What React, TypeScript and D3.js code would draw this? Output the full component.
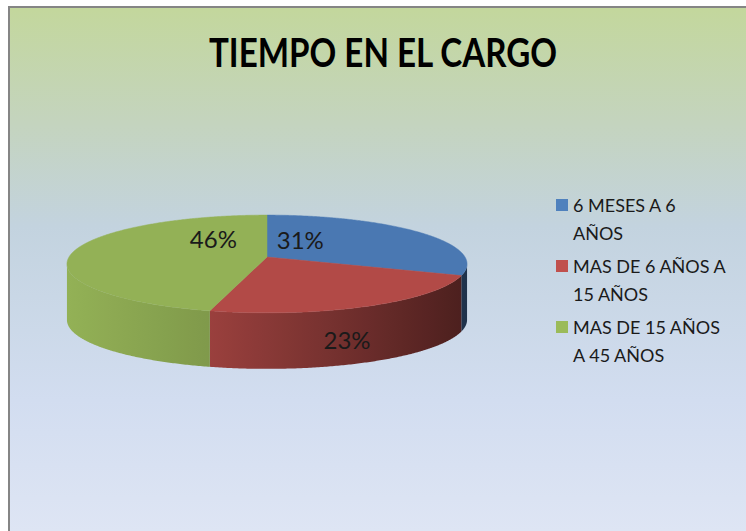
import React from "react";
import * as d3 from "d3";

const title = "TIEMPO EN EL CARGO";
const categories = ["6 MESES A 6 AÑOS", "MAS DE 6 AÑOS A 15 AÑOS", "MAS DE 15 AÑOS A 45 AÑOS"];
const legendLines = [
  ["6 MESES A 6", "AÑOS"],
  ["MAS DE 6 AÑOS A", "15 AÑOS"],
  ["MAS DE 15 AÑOS", "A 45 AÑOS"],
];
const values = [31, 23, 46];
const percentLabels = values.map((v) => `${v}%`);
const topColors = ["#4A78B2", "#B24A47", "#93B156"];
const legendColors = ["#4F81BD", "#C0504D", "#9BBB59"];
// label anchors in pie polar coords: angle (deg, clockwise from back), radius, drop fraction of side
const labelAnchors = [
  { a: 25, r: 0.42, drop: 0 },
  { a: 159.5, r: 1, drop: 0.54 },
  { a: 325, r: 0.5, drop: 0 },
];

const W = 746;
const H = 531;
const cx = 267;
const cy = 257;
const K = 198;
const Dp = 6.8;
const phi = (14 * Math.PI) / 180;
const sP = Math.sin(phi);
const cP = Math.cos(phi);
const depth = 56;

function proj(theta: number, r: number, drop: number): [number, number] {
  const x = r * Math.sin(theta);
  const z = -r * Math.cos(theta);
  const w = Dp - z * cP;
  return [cx + (K * Dp * x) / w, cy + (K * Dp * z * sP) / w + drop];
}

const light = d3.scaleLinear().domain([0, 0.35, 0.68, 1]).range([1.0, 0.87, 0.65, 0.42]).clamp(true);

function shade(col: string, f: number) {
  const c = d3.rgb(col);
  return d3.rgb(c.r * f, c.g * f, c.b * f).formatHex();
}

export default function App() {
  const arcs = d3.pie<number>().sort(null).startAngle(0).endAngle(2 * Math.PI)(values);
  const step = Math.PI / 360;
  const silA = Math.acos(-cP / Dp);
  const silB = 2 * Math.PI - silA;
  const xL = proj(silB, 1, 0)[0];
  const xR = proj(silA, 1, 0)[0];

  const sides = arcs
    .map((a, i) => {
      const s = Math.max(a.startAngle, silA);
      const e = Math.min(a.endAngle, silB);
      if (e <= s) return null;
      const n = Math.max(2, Math.ceil((e - s) / step));
      const topPts: [number, number][] = [];
      const botPts: [number, number][] = [];
      for (let k = 0; k <= n; k++) {
        const t = s + ((e - s) * k) / n;
        topPts.push(proj(t, 1, 0));
        botPts.push(proj(t, 1, depth));
      }
      const pts = topPts.concat(botPts.reverse());
      return { d: d3.line()(pts) + "Z", i };
    })
    .filter((v) => v !== null) as { d: string; i: number }[];

  const tops = arcs.map((a, i) => {
    const pts: [number, number][] = [proj(0, 0, 0)];
    const n = Math.max(2, Math.ceil((a.endAngle - a.startAngle) / step));
    for (let k = 0; k <= n; k++) {
      const t = a.startAngle + ((a.endAngle - a.startAngle) * k) / n;
      pts.push(proj(t, 1, 0));
    }
    return { d: d3.line()(pts) + "Z", fill: topColors[i] };
  });

  // gradient stops along screen x for each colour
  const stopSamples = d3.range(0, 1.0001, 0.05);

  const font = "Lato, 'Open Sans', sans-serif";

  return (
    <svg width={W} height={H} style={{ position: "absolute", left: 0, top: 0 }}>
      <defs>
        <linearGradient id="bg" gradientUnits="userSpaceOnUse" x1="0" y1="7" x2="0" y2="531">
          <stop offset="0" stopColor="#C3D79C" />
          <stop offset="0.22" stopColor="#C4D4BE" />
          <stop offset="0.42" stopColor="#C3D3DF" />
          <stop offset="0.75" stopColor="#D2DDF0" />
          <stop offset="1" stopColor="#DEE5F4" />
        </linearGradient>
        {topColors.map((col, i) => (
          <linearGradient key={i} id={`side${i}`} gradientUnits="userSpaceOnUse" x1={xL} y1={0} x2={xR} y2={0}>
            {stopSamples.map((o, j) => {
              // screen offset o -> sin(theta) in [-1,1]
              const sinT = 2 * o - 1;
              const tt = (1 + sinT) / 2;
              return <stop key={j} offset={o} stopColor={shade(col, light(tt))} />;
            })}
          </linearGradient>
        ))}
      </defs>
      <rect x={0} y={0} width={W} height={H} fill="#ffffff" />
      <rect x={9} y={7} width={W + 20} height={H + 20} fill="url(#bg)" stroke="#858585" strokeWidth={2} />
      <text
        x={383}
        y={67}
        textAnchor="middle"
        fontFamily={font}
        fontWeight="bold"
        fontSize={40}
        textLength={348}
        lengthAdjust="spacingAndGlyphs"
        fill="#000"
      >
        {title}
      </text>
      <g>
        {sides.map((s) => (
          <path key={s.i} d={s.d} fill={`url(#side${s.i})`} />
        ))}
      </g>
      <g>
        {tops.map((t, i) => (
          <path key={i} d={t.d} fill={t.fill} stroke={t.fill} strokeWidth={0.5} />
        ))}
      </g>
      <g fontFamily={font} fontSize={24} fill="#1a1a1a" textAnchor="middle">
        {labelAnchors.map((la, i) => {
          const p = proj((la.a * Math.PI) / 180, la.r, la.drop * depth);
          return (
            <text key={i} x={p[0]} y={p[1]} dominantBaseline="central">
              {percentLabels[i]}
            </text>
          );
        })}
      </g>
      <g fontFamily={font} fontSize={18} fill="#1a1a1a">
        {categories.map((c, i) => {
          const y0 = 205 + i * 61;
          return (
            <g key={c}>
              <rect x={556} y={y0 - 6} width={12} height={12} fill={legendColors[i]} />
              {legendLines[i].map((ln, j) => (
                <text key={j} x={573} y={y0 + j * 27.5} dominantBaseline="central">
                  {ln}
                </text>
              ))}
            </g>
          );
        })}
      </g>
    </svg>
  );
}
